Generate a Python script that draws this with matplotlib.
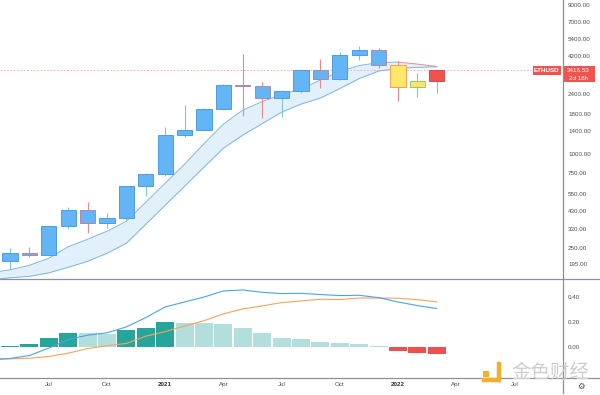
import numpy as np
import matplotlib
matplotlib.use("Agg")
import matplotlib.pyplot as plt
from matplotlib.patches import Rectangle
from matplotlib.lines import Line2D
from matplotlib.ticker import NullLocator

# ETHUSD monthly candles, May 2020 .. Mar 2022
months = ["2020-05", "2020-06", "2020-07", "2020-08", "2020-09", "2020-10", "2020-11", "2020-12",
          "2021-01", "2021-02", "2021-03", "2021-04", "2021-05", "2021-06", "2021-07", "2021-08",
          "2021-09", "2021-10", "2021-11", "2021-12", "2022-01", "2022-02", "2022-03"]
opens = [206.6, 231.5, 225.6, 345.9, 434.0, 359.8, 386.6, 616.8, 737.8, 1314, 1418, 1918,
         2772, 2707, 2275, 2531, 3434, 3001, 4289, 4631, 3683, 2688, 2919]
highs = [246.9, 253.8, 348.5, 458, 488.8, 419.5, 622.5, 755.2, 1476, 2040, 1947, 2797,
         4380, 2890, 2551, 3470, 4027, 4460, 4891, 4780, 3900, 3283, 3483]
lows = [181.8, 216.1, 222.9, 328, 308.4, 335.8, 374.0, 537.0, 714, 1270, 1410, 1895,
        1735, 1700, 1718, 2450, 2651, 2970, 3980, 3520, 2159, 2300, 2450]
closes = [231.5, 225.6, 345.9, 434.0, 359.8, 386.6, 616.8, 737.8, 1314, 1418, 1918, 2772,
          2707, 2275, 2531, 3434, 3001, 4289, 4631, 3683, 2688, 2919, 3416.53]
bar_state = ["b"] * 20 + ["y", "y", "r"]
last_price = 3416.53

# band + MACD lines start one month earlier (Apr 2020, off the left edge)
band_upper = [172.3, 180.1, 192.5, 213.5, 253.0, 282.6, 318.1, 368.8, 488.0, 646.4, 855.8, 1158,
              1545, 1900, 2155, 2390, 2592, 2960, 3356, 3667, 3833, 3862, 3749, 3614]
band_lower = [155.4, 160.1, 163.6, 172.3, 186.9, 204.2, 229.8, 266.4, 352.8, 467.0, 618.4, 818.7,
              1084, 1314, 1557, 1845, 2077, 2270, 2611, 3026, 3381, 3518, 3571, 3603]
macd = [-0.105, -0.094, -0.07, -0.01, 0.059, 0.094, 0.113, 0.161, 0.236, 0.322, 0.362, 0.402,
        0.451, 0.459, 0.44, 0.43, 0.432, 0.422, 0.414, 0.416, 0.397, 0.362, 0.333, 0.309]
signal = [-0.10, -0.097, -0.092, -0.078, -0.051, -0.014, 0.009, 0.027, 0.086, 0.123, 0.168, 0.211,
          0.266, 0.306, 0.33, 0.357, 0.37, 0.384, 0.382, 0.394, 0.394, 0.392, 0.381, 0.363]
hist = [0.003, 0.022, 0.068, 0.11, 0.108, 0.104, 0.134, 0.15, 0.199, 0.194, 0.191, 0.185,
        0.153, 0.11, 0.073, 0.062, 0.038, 0.032, 0.022, 0.003, -0.03, -0.048, -0.054]

price_ticks = [9000, 7000, 5400, 4200, 2400, 1800, 1400, 1000, 750, 550, 430, 330, 250, 195]
macd_ticks = [0.40, 0.20, 0.00]
xtick_pos = [2, 5, 8, 11, 14, 17, 20, 23, 26]
xtick_lab = ["Jul", "Oct", "2021", "Apr", "Jul", "Oct", "2022", "Apr", "Jul"]

W, H = 600, 395
def fx(x): return x / W
def fy(y): return 1 - y / H

plt.rcParams["font.family"] = ["Liberation Sans", "DejaVu Sans"]
fig = plt.figure(figsize=(6, 3.95), dpi=100)
ax = fig.add_axes([0, fy(279.3), fx(562.7), 279.3 / H])
ax2 = fig.add_axes([0, fy(378.3), fx(562.7), (378.3 - 279.8) / H])

x = np.arange(len(months))
xl = np.arange(-1, len(months))
xlim = (-0.515, 28.49)

# --- price pane
ax.set_yscale("log")
ax.fill_between(xl, band_lower, band_upper, color="#e2f0fc", lw=0, zorder=1)
ax.plot(xl, band_lower, color="#7eb4e2", lw=0.7, zorder=2)
ax.plot(xl[:22], band_upper[:22], color="#7eb4e2", lw=0.7, zorder=2)
ax.plot(xl[21:], band_upper[21:], color="#ee8585", lw=0.7, zorder=2)
ax.axhline(last_price, xmin=0, xmax=533 / 562.7, color="#f3a0a0", lw=0.6, ls=(0, (2, 2)), zorder=1.5)

fills = {"b": "#64b5f6", "y": "#ffe76a", "r": "#ef5350"}
for i in x:
    o, h, l, c = opens[i], highs[i], lows[i], closes[i]
    up = c >= o
    st = bar_state[i]
    wick = "#7fcbbf" if up else "#ec8a8a"
    if st == "b":
        edge = "#4b9fe0" if up else "#b287a6"
    elif st == "y":
        edge = "#8cc870" if up else "#f0a255"
    else:
        edge = "#e04848"
    ax.vlines(i, l, h, color=wick, lw=0.8, zorder=3)
    ax.bar(i, abs(c - o), bottom=min(o, c), width=0.78, color=fills[st],
           edgecolor=edge, lw=0.7, zorder=4)

ax.set_xlim(*xlim)
ax.set_ylim(156.6, 9649)
ax.yaxis.tick_right()
ax.yaxis.set_minor_locator(NullLocator())
ax.set_yticks(price_ticks)
ax.set_yticklabels([f"{t:.2f}" for t in price_ticks])
ax.tick_params(axis="y", length=0, pad=3.8, labelsize=4.5, labelcolor="#4a4d57")
ax.set_xticks([])
for s in ax.spines.values():
    s.set_visible(False)

# --- MACD pane
hcol = []
for i, v in enumerate(hist):
    prev = hist[i - 1] if i > 0 else v
    if v < 0:
        hcol.append("#ef4f4f")
    elif v >= prev:
        hcol.append("#26a69a")
    else:
        hcol.append("#b2dfdb")
ax2.bar(x, hist, width=0.93, color=hcol, lw=0, zorder=1)
ax2.plot(xl, signal, color="#f7a25e", lw=0.8, zorder=2)
ax2.plot(xl, macd, color="#4aa3e8", lw=0.8, zorder=3)
ax2.set_xlim(*xlim)
ax2.set_ylim(-0.254, 0.541)
ax2.yaxis.tick_right()
ax2.set_yticks(macd_ticks)
ax2.set_yticklabels([f"{t:.2f}" for t in macd_ticks])
ax2.tick_params(axis="y", length=0, pad=3.8, labelsize=4.5, labelcolor="#4a4d57")
ax2.set_xticks(xtick_pos)
ax2.set_xticklabels(xtick_lab)
ax2.tick_params(axis="x", length=0, pad=2.6, labelsize=4.5, labelcolor="#4a4d57")
for lab in ax2.get_xticklabels():
    if lab.get_text().startswith("20"):
        lab.set_fontweight("bold")
        lab.set_color("#2a2e39")
for s in ax2.spines.values():
    s.set_visible(False)

# --- separators
sep = "#8e9099"
fig.add_artist(Line2D([0, 1], [fy(279.3)] * 2, transform=fig.transFigure, color=sep, lw=0.9))
fig.add_artist(Line2D([0, 1], [fy(378.3)] * 2, transform=fig.transFigure, color=sep, lw=0.9))
fig.add_artist(Line2D([fx(562.7)] * 2, [1, fy(393)], transform=fig.transFigure, color=sep, lw=0.9))

# --- last price labels
red = "#ef5350"
fig.add_artist(Rectangle((fx(532.7), fy(74.6)), (560.5 - 532.7) / W, 8.3 / H,
                         transform=fig.transFigure, color=red, lw=0))
fig.text(fx(546.6), fy(70.5), "ETHUSD", color="white", fontsize=4.5, fontweight="bold",
         ha="center", va="center")
fig.add_artist(Rectangle((fx(562.7), fy(82.3)), 31.8 / W, 16 / H,
                         transform=fig.transFigure, color=red, lw=0))
fig.text(fx(578.6), fy(70.6), "3416.53", color="white", fontsize=4.5, ha="center", va="center")
fig.text(fx(578.6), fy(78.6), "2d 18h", color="white", fontsize=4.5, ha="center", va="center")

# --- watermark + gear
org = "#f4ae2a"
fig.add_artist(Rectangle((fx(483), fy(376.5)), 6 / W, 6 / H, transform=fig.transFigure, color=org, lw=0))
fig.add_artist(Line2D([fx(484), fx(499), fx(499)], [fy(380), fy(380), fy(364)],
                      transform=fig.transFigure, color=org, lw=3.2, solid_joinstyle="miter"))
fig.text(fx(550), fy(372), "金色财经", family=["Noto Sans CJK SC", "DejaVu Sans"],
         fontsize=14, color="#cdcdcd", ha="center", va="center")
fig.text(fx(581), fy(386), "\u2699", family=["DejaVu Sans"], fontsize=6, color="#444",
         ha="center", va="center")

fig.savefig("out.png", dpi=100)
